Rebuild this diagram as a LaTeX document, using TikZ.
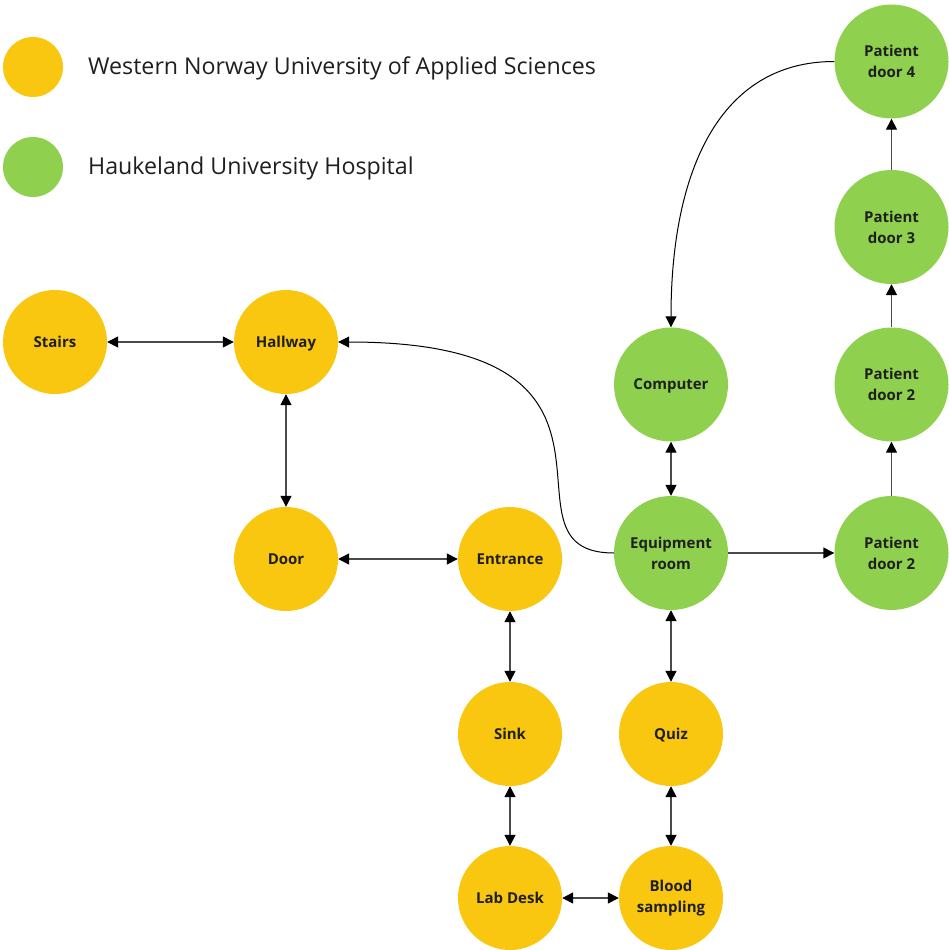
\documentclass[tikz,border=0pt]{standalone}
\usepackage{fontspec}
\setmainfont{Open Sans}
\usetikzlibrary{arrows.meta}
\definecolor{wyellow}{HTML}{FAC710}
\definecolor{hgreen}{HTML}{8FD14F}
\definecolor{txt}{HTML}{1F1F1F}
\definecolor{ln}{HTML}{4A4A4A}
\tikzset{
  place/.style={circle, inner sep=0pt, text=txt, align=center, font=\fontsize{15}{21}\selectfont\bfseries},
  uni/.style={place, fill=wyellow, minimum size=104pt},
  hosp/.style={place, fill=hgreen, minimum size=114pt},
  legdot/.style={circle, inner sep=0pt, minimum size=60pt},
  legtext/.style={anchor=west, inner sep=0pt, text=txt, font=\fontsize{23.2}{28}\selectfont},
  tip/.tip={Triangle[length=11pt,width=11pt,color=black]},
  link/.style={draw=ln, line width=1.4pt},
  curve/.style={draw=black, line width=1pt}
}
\begin{document}
\begin{tikzpicture}[x=1pt,y=-1pt]
\useasboundingbox (0,0) rectangle (949,950);
% legend
\node[legdot, fill=wyellow] (ly) at (33,67) {};
\node[legtext] (lyt) at (88,68) {Western Norway University of Applied Sciences};
\node[legdot, fill=hgreen] (lg) at (33,167) {};
\node[legtext] (lgt) at (88,168) {Haukeland University Hospital};
% yellow nodes
\node[uni] (stairs) at (55,342) {Stairs};
\node[uni] (hall) at (286,342) {\raisebox{0pt}[\height][0pt]{Hallway}};
\node[uni] (door) at (286,559) {Door};
\node[uni] (entr) at (510,559) {Entrance};
\node[uni] (sink) at (510,734) {Sink};
\node[uni] (lab) at (510,898) {Lab Desk};
\node[uni] (quiz) at (671,734) {\raisebox{0pt}[\height][0pt]{Quiz}};
\node[uni] (blood) at (671,898) {Blood\\sampling};
% green nodes
\node[hosp] (equip) at (671,553) {Equipment\\room};
\node[hosp] (comp) at (671,384.5) {\raisebox{0pt}[\height][0pt]{Computer}};
\node[hosp] (pd2a) at (891.5,553) {Patient\\door 2};
\node[hosp] (pd2b) at (891.5,384.5) {Patient\\door 2};
\node[hosp] (pd3) at (891.5,227) {Patient\\door 3};
\node[hosp] (pd4) at (891.5,61.5) {Patient\\door 4};
% connectors
\draw[link, tip-tip] (stairs) -- (hall);
\draw[link, tip-tip] (hall) -- (door);
\draw[link, tip-tip] (door) -- (entr);
\draw[link, tip-tip] (entr) -- (sink);
\draw[link, tip-tip] (sink) -- (lab);
\draw[link, tip-tip] (lab) -- (blood);
\draw[link, tip-tip] (quiz) -- (blood);
\draw[link, tip-tip] (equip) -- (quiz);
\draw[link, tip-tip] (comp) -- (equip);
\draw[link, -tip] (equip) -- (pd2a);
\draw[link, -tip] (pd2a) -- (pd2b);
\draw[link, -tip] (pd2b) -- (pd3);
\draw[link, -tip] (pd3) -- (pd4);
\draw[curve, -tip] (equip.west) .. controls (485,553) and (672,342) .. (hall.east);
\draw[curve, -tip] (pd4.west) .. controls (720,61.5) and (671,170) .. (comp.north);
\end{tikzpicture}
\end{document}
